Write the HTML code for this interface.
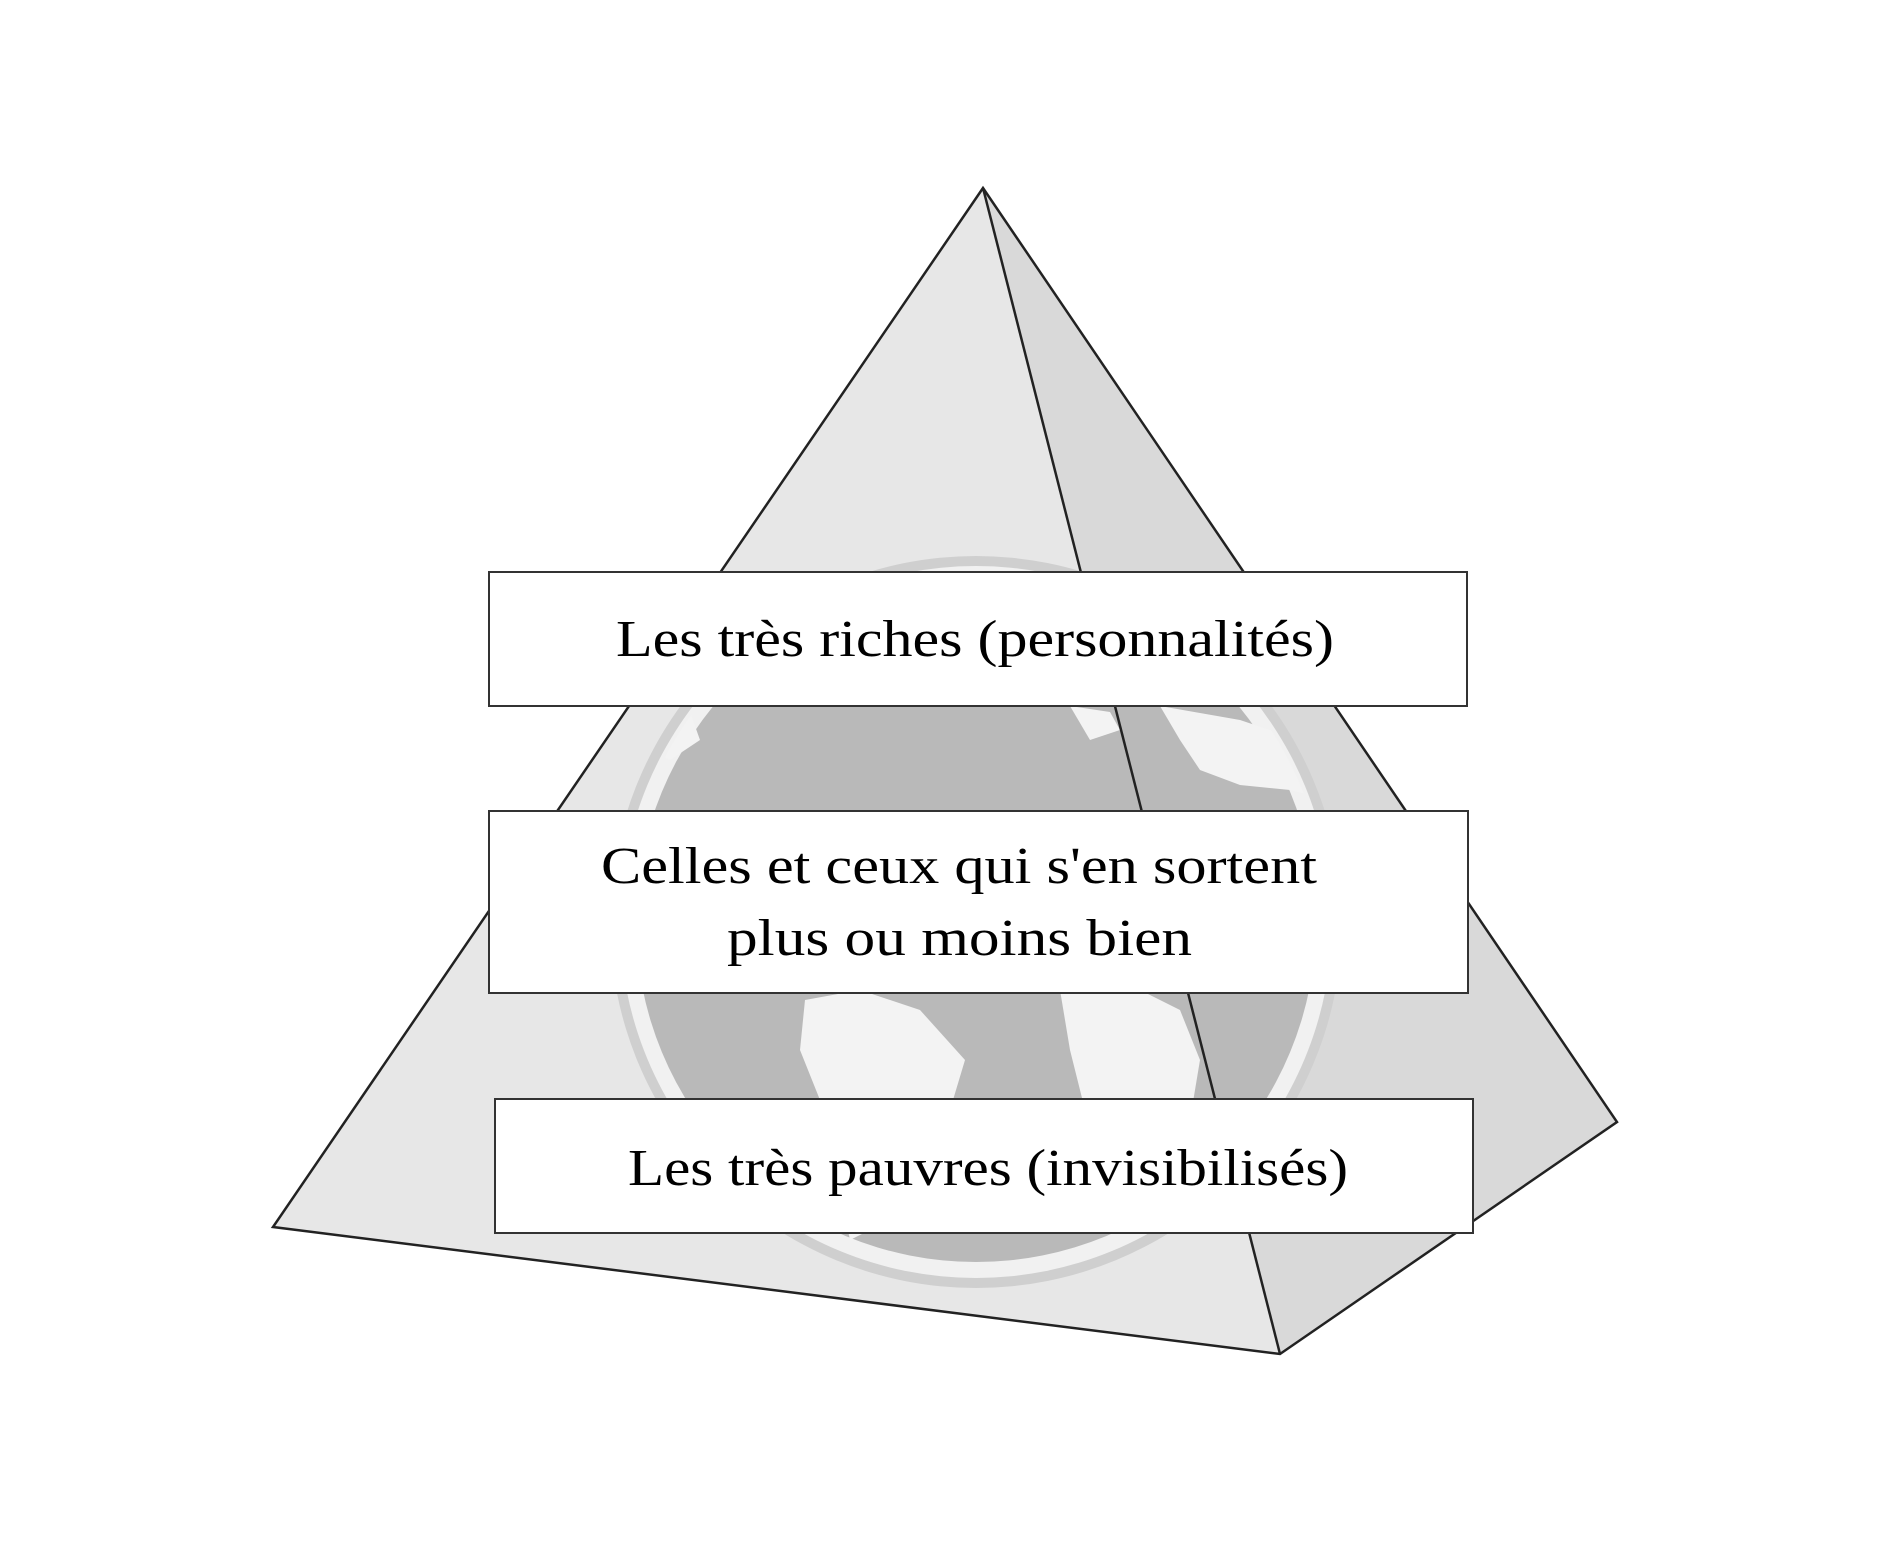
<!DOCTYPE html>
<html><head><meta charset="utf-8"><style>
html,body{margin:0;padding:0;background:#fff;}
svg{display:block;}
</style></head><body>
<svg width="1901" height="1561" viewBox="0 0 1901 1561" xmlns="http://www.w3.org/2000/svg">
<defs>
<clipPath id="pyr"><polygon points="983,188 273,1227 1280,1354 1617,1122"/></clipPath>
<clipPath id="glb"><circle cx="976" cy="922" r="352"/></clipPath>
</defs>
<polygon points="983,188 273,1227 1280,1354" fill="#e7e7e7"/>
<polygon points="983,188 1280,1354 1617,1122" fill="#d9d9d9"/>
<g clip-path="url(#pyr)">
<circle cx="976" cy="922" r="366" fill="#cfcfcf"/>
<circle cx="976" cy="922" r="356" fill="#f1f1f1"/>
<circle cx="976" cy="922" r="340" fill="#b9b9b9"/>
<g clip-path="url(#glb)" fill="#f3f3f3">
<path d="M640,706 L690,712 L700,740 L670,760 L640,745 Z"/>
<path d="M1070,706 L1110,712 L1120,730 L1090,740 Z"/>
<path d="M1160,706 L1240,720 L1300,740 L1330,800 L1290,790 L1240,785 L1200,770 L1180,740 Z"/>
<path d="M805,1000 L860,990 L920,1010 L965,1060 L950,1110 L900,1160 L870,1230 L850,1240 L835,1170 L820,1100 L800,1050 Z"/>
<path d="M1060,990 L1140,990 L1180,1010 L1200,1060 L1190,1120 L1170,1140 L1140,1150 L1120,1180 L1100,1170 L1085,1110 L1070,1050 Z"/>
</g>
</g>
<g stroke="#222" stroke-width="2.5" fill="none">
<polygon points="983,188 273,1227 1280,1354 1617,1122"/>
<line x1="983" y1="188" x2="1280" y2="1354"/>
</g>
<g fill="#fff" stroke="#333" stroke-width="2">
<rect x="489" y="572" width="978" height="134"/>
<rect x="489" y="811" width="979" height="182"/>
<rect x="495" y="1099" width="978" height="134"/>
</g>
<g font-family="'Liberation Serif', serif" font-size="52" fill="#000">
<text x="616" y="656" textLength="718" lengthAdjust="spacingAndGlyphs">Les très riches (personnalités)</text>
<text x="601" y="883" textLength="716" lengthAdjust="spacingAndGlyphs">Celles et ceux qui s'en sortent</text>
<text x="727" y="955" textLength="465" lengthAdjust="spacingAndGlyphs">plus ou moins bien</text>
<text x="628" y="1185" textLength="720" lengthAdjust="spacingAndGlyphs">Les très pauvres (invisibilisés)</text>
</g>
</svg>
</body></html>
